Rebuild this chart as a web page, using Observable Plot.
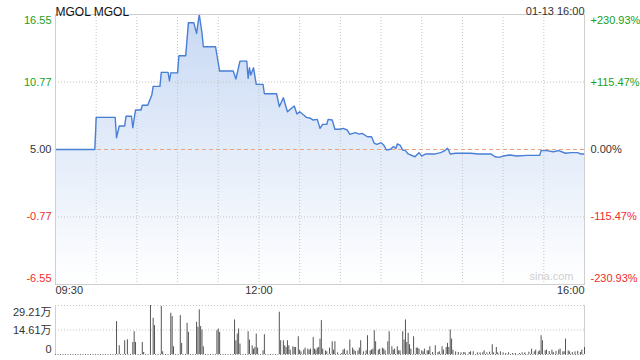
<!DOCTYPE html>
<html><head><meta charset="utf-8">
<script src="https://cdn.jsdelivr.net/npm/d3@7"></script>
<script src="https://cdn.jsdelivr.net/npm/@observablehq/plot@0.6"></script>
<style>
html,body{margin:0;padding:0;background:#fff;}
#chart svg{display:block;}
</style></head><body><div id="chart"></div>
<script>
const title = "MGOL MGOL";
const stamp = "01-13 16:00";
const watermark = "sina.com";
const prevClose = 5.00;

const priceTimes = ["09:30","09:59","10:00","10:14","10:15","10:17","10:21","10:22","10:26","10:27","10:29","10:33","10:34","10:38","10:41","10:42","10:47","10:48","10:53","10:54","10:55","11:00","11:01","11:06","11:08","11:12","11:14","11:16","11:18","11:19","11:28","11:31","11:41","11:43","11:46","11:51","11:52","11:53","11:54","11:56","11:58","12:03","12:04","12:13","12:15","12:18","12:20","12:21","12:26","12:28","12:30","12:33","12:35","12:38","12:40","12:43","12:45","12:47","12:50","12:51","12:54","12:56","13:00","13:02","13:05","13:07","13:11","13:14","13:16","13:20","13:23","13:25","13:27","13:30","13:32","13:34","13:37","13:39","13:41","13:42","13:44","13:46","13:48","13:50","13:55","13:58","14:00","14:03","14:10","14:14","14:17","14:19","14:20","14:21","14:25","14:36","14:42","14:51","14:54","14:57","15:00","15:05","15:10","15:18","15:27","15:28","15:32","15:37","15:41","15:46","15:50","15:55","15:57","16:00"];
const priceValues = [5.00,5.00,7.75,7.75,6.01,7.01,7.01,7.84,7.84,6.86,8.38,8.38,8.78,8.78,9.66,10.40,10.40,11.60,11.60,10.88,11.56,11.56,13.02,13.02,15.84,15.84,14.93,16.55,14.96,13.79,13.79,11.71,11.71,11.03,12.56,12.56,11.09,11.99,11.37,11.99,10.57,10.57,9.77,9.77,8.66,9.43,8.61,8.23,8.72,8.03,8.23,7.95,7.75,7.67,7.52,7.58,6.81,7.15,7.15,7.58,7.52,6.73,6.73,6.81,6.67,6.30,6.44,6.32,6.38,6.09,6.09,5.53,5.44,5.58,5.38,4.96,5.02,5.24,5.10,5.47,5.38,4.96,4.90,4.62,4.38,4.73,4.44,4.62,4.62,4.73,4.90,5.10,4.90,4.62,4.68,4.68,4.62,4.62,4.38,4.33,4.44,4.53,4.44,4.50,4.50,4.90,4.90,4.81,4.90,4.68,4.73,4.73,4.62,4.62];

const priceTicks = [16.55, 10.77, 5.00, -0.77, -6.55];
const priceTickLabels = ["16.55","10.77","5.00","-0.77","-6.55"];
const pctTickLabels = ["+230.93%","+115.47%","0.00%","-115.47%","-230.93%"];
const timeTicks = ["09:30","12:00","16:00"];
const gridTimes = ["10:00","10:30","11:00","11:30","12:00","12:30","13:00","13:30","14:00","14:30","15:00","15:30"];

const volTimes = ["10:15","10:17","10:21","10:23","10:27","10:28","10:29","10:34","10:35","10:40","10:42","10:43","10:48","10:49","10:55","10:56","10:57","11:02","11:03","11:07","11:08","11:14","11:15","11:16","11:17","11:18","11:19","11:29","11:30","11:31","11:42","11:43","11:44","11:45","11:46","11:52","11:53","11:55","11:56","11:57","11:58","11:59","12:03","12:04","12:15","12:16","12:18","12:19","12:20","12:21","12:22","12:23","12:25","12:26","12:27","12:29","12:30","12:31","12:33","12:34","12:36","12:37","12:38","12:40","12:41","12:42","12:43","12:44","12:45","12:46","12:47","12:49","12:50","12:52","12:54","12:55","12:56","12:58","13:01","13:02","13:03","13:05","13:07","13:09","13:10","13:11","13:13","13:14","13:15","13:17","13:19","13:20","13:22","13:23","13:24","13:25","13:26","13:28","13:29","13:31","13:32","13:33","13:35","13:36","13:38","13:39","13:40","13:42","13:43","13:44","13:46","13:47","13:48","13:49","13:50","13:51","13:52","13:54","13:56","13:57","13:58","14:00","14:01","14:02","14:04","14:05","14:06","14:08","14:10","14:12","14:13","14:15","14:16","14:18","14:19","14:20","14:21","14:22","14:23","14:25","14:27","14:29","14:31","14:32","14:35","14:36","14:38","14:41","14:43","14:45","14:46","14:48","14:50","14:52","14:53","14:55","14:56","14:58","15:00","15:02","15:04","15:07","15:09","15:12","15:14","15:16","15:19","15:21","15:23","15:24","15:26","15:27","15:28","15:29","15:31","15:32","15:34","15:36","15:37","15:39","15:41","15:42","15:44","15:45","15:46","15:48","15:49","15:51","15:53","15:55","15:57","15:58","16:00"];
const volValues = [19.6,5.2,8.2,8.8,7.2,13.6,7.2,7.2,1.2,29.21,21.6,17.2,28.6,1.6,24.6,22.6,4.6,23.2,6.6,18.6,13.2,19.2,16.2,26.6,16.6,14.6,4.6,14.2,15.2,13.2,20.6,8.2,12.2,15.2,6.2,13.6,8.6,5.2,3.2,4.2,12.2,3.8,2.2,11.8,25.2,8.2,8.2,5.2,4.2,8.2,5.2,2.6,4.6,4.2,4.2,10.6,2.6,1.6,2.6,3.8,3.2,2.6,3.2,10.2,3.2,2.6,3.8,4.2,9.2,20.2,3.2,2.2,1.6,3.8,7.6,2.6,7.6,1.0,0.6,2.6,3.2,2.2,8.6,3.8,2.6,1.8,2.2,3.8,8.2,1.6,2.2,11.2,2.2,2.6,3.2,14.2,7.6,2.6,3.2,3.8,3.2,2.2,7.6,13.6,4.6,2.6,3.2,4.6,2.2,2.2,13.6,8.6,20.6,7.2,12.6,5.8,3.2,10.6,3.8,3.8,3.2,2.2,1.6,3.2,2.2,2.2,4.6,1.2,5.2,1.2,1.6,4.6,2.6,4.2,6.6,4.2,14.6,9.2,2.6,1.6,1.2,1.0,1.2,1.0,1.2,1.6,1.6,1.0,1.0,1.0,2.2,1.0,1.4,5.8,1.0,4.2,1.0,1.6,1.0,0.6,1.0,0.6,0.6,0.6,1.0,1.0,1.4,3.2,1.6,2.6,1.6,2.2,11.2,8.2,2.2,2.6,1.8,2.6,1.2,1.8,2.6,3.2,1.6,1.6,9.2,2.2,1.6,1.2,1.6,1.8,1.2,2.6,4.2];
const volTicks = [29.21, 14.61, 0];
const volTickLabels = ["29.21万","14.61万","0"];

const toMin = t => { const [h, m] = t.split(":").map(Number); return h * 60 + m - 570; };
const price = priceTimes.map((t, i) => ({m: toMin(t), v: priceValues[i]}));
const vol = volTimes.map((t, i) => ({m: toMin(t), v: volValues[i]}));

const FONT = '"Liberation Sans", Arial, "Noto Sans CJK SC", sans-serif';
const GREEN = "#1a9f1a", RED = "#f02c2c", DARK = "#333";
const tickColor = v => v > prevClose + 1e-9 ? GREEN : v < prevClose - 1e-9 ? RED : DARK;
const W = 640, ML = 55, MR = 56;
const xDomain = [0, toMin("16:00")];
const pDomain = [priceTicks[priceTicks.length - 1], priceTicks[0]];

const leftLabels = priceTicks.map((v, i) => Plot.text([v], {
  y: d => d, text: () => priceTickLabels[i], frameAnchor: "left", textAnchor: "end", dx: -4,
  dy: i === 0 ? 6 : i === priceTicks.length - 1 ? -6 : 0, fill: tickColor(v), fontSize: 11
}));
const rightLabels = priceTicks.map((v, i) => Plot.text([v], {
  y: d => d, text: () => pctTickLabels[i], frameAnchor: "right", textAnchor: "start", dx: 6,
  dy: i === 0 ? 6 : i === priceTicks.length - 1 ? -6 : 0, fill: tickColor(v), fontSize: 11
}));
const anchors = ["start", "middle", "end"];
const timeLabels = timeTicks.map((t, i) => Plot.text([t], {
  x: d => toMin(d), text: d => d, frameAnchor: "bottom", textAnchor: anchors[i], dy: 9, fill: DARK, fontSize: 11
}));

const priceChart = Plot.plot({
  width: W, height: 300, marginLeft: ML, marginRight: MR, marginTop: 14, marginBottom: 16,
  style: {fontFamily: FONT, fontSize: "11px", background: "transparent", overflow: "visible"},
  x: {domain: xDomain, axis: null},
  y: {domain: pDomain, axis: null},
  marks: [
    Plot.areaY(price, {x: "m", y1: pDomain[0], y2: "v", fill: "url(#priceGrad)"}),
    Plot.ruleX(gridTimes.map(toMin), {x: d => d, stroke: "#c4c4c4", strokeDasharray: "1,2"}),
    Plot.ruleY(priceTicks.filter(v => v !== prevClose && v !== pDomain[0] && v !== pDomain[1]), {y: d => d, stroke: "#c4c4c4", strokeDasharray: "1,2"}),
    Plot.ruleY([prevClose], {y: d => d, stroke: "#eea27e", strokeDasharray: "4,3"}),
    Plot.line(price, {x: "m", y: "v", stroke: "#4a7fd6", strokeWidth: 1.4}),
    Plot.frame({stroke: "#cfcfcf"}),
    Plot.text([title], {text: d => d, frameAnchor: "top-left", textAnchor: "start", dy: -7, fill: "#111", fontSize: 12}),
    Plot.text([stamp], {text: d => d, frameAnchor: "top-right", textAnchor: "end", dy: -7, fill: DARK, fontSize: 11}),
    Plot.text([watermark], {text: d => d, frameAnchor: "bottom-right", textAnchor: "end", dx: -11, dy: -5, fill: "#cfcfcf", fontSize: 11}),
    ...leftLabels, ...rightLabels, ...timeLabels
  ]
});

const defs = d3.select(priceChart).insert("defs", ":first-child");
const grad = defs.append("linearGradient").attr("id", "priceGrad")
  .attr("gradientUnits", "userSpaceOnUse").attr("x1", 0).attr("x2", 0).attr("y1", 14).attr("y2", 284);
grad.append("stop").attr("offset", "0%").attr("stop-color", "#c8d9f4");
grad.append("stop").attr("offset", "100%").attr("stop-color", "#ffffff");

const volChart = Plot.plot({
  width: W, height: 60, marginLeft: ML, marginRight: MR, marginTop: 5, marginBottom: 6,
  style: {fontFamily: FONT, fontSize: "11px", background: "transparent", overflow: "visible"},
  x: {domain: xDomain, axis: null},
  y: {domain: [0, volTicks[0]], axis: null},
  marks: [
    Plot.ruleY(volTicks.slice(0, 2), {y: d => d, stroke: "#c4c4c4", strokeDasharray: "1,2"}),
    Plot.ruleY([0], {y: d => d, stroke: "#777", strokeDasharray: "1,1.5"}),
    Plot.ruleX(xDomain, {x: d => d, stroke: "#cfcfcf"}),
    Plot.ruleX(vol, {x: "m", y1: 0, y2: "v", stroke: "#555", strokeWidth: 1}),
    ...volTicks.map((v, i) => Plot.text([v], {y: d => d, text: () => volTickLabels[i], frameAnchor: "left", textAnchor: "end", dx: -4,
      dy: i === 0 ? 7 : i === volTicks.length - 1 ? -5 : 0, fill: DARK, fontSize: 11}))
  ]
});

const root = document.getElementById("chart");
root.appendChild(priceChart);
root.appendChild(volChart);
</script>
</body></html>
